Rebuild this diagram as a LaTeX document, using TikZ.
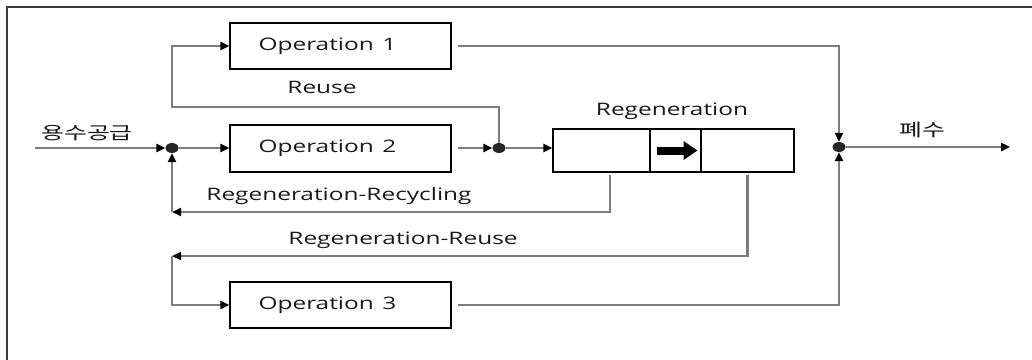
\documentclass[tikz,border=0pt]{standalone}
\usepackage{fontspec}
\setmainfont{Open Sans}[FakeStretch=1.42]
\newfontfamily\kr{Noto Sans CJK KR}[FakeStretch=1.42]
\usetikzlibrary{arrows.meta,shapes.geometric,calc}

\definecolor{flowgray}{RGB}{125,125,125}
\definecolor{framegray}{RGB}{60,60,60}

\newcommand\opname[1]{\hspace*{-26pt}Operation\enspace #1}

\begin{document}
\begin{tikzpicture}[x=1pt,y=-1pt,
  every node/.style={font=\fontsize{17.2}{20}\selectfont, text=black!90},
  opbox/.style={draw=black, line width=1.3pt, minimum width=221pt, minimum height=46pt, inner sep=0pt},
  regbox/.style={draw=black, line width=1.3pt, minimum height=43pt, inner sep=0pt},
  junc/.style={ellipse, fill=black!85, minimum width=13pt, minimum height=10pt, inner sep=0pt},
  flow/.style={draw=flowgray, line width=2.4pt, -{Triangle[length=9pt,width=8pt,color=black]}},
  lbl/.style={anchor=base, inner sep=0pt},
  krlbl/.style={inner sep=0pt, font=\kr\fontsize{17.5}{20}\selectfont},
]
\clip (0,0) rectangle (1032,359);
\fill[white] (0,0) rectangle (1032,359);

% outer frame (open to the right and bottom)
\draw[framegray, line width=2pt] (7,7) rectangle (1060,390);

% operation boxes
\node[opbox] (op1) at (340.5,46) {\opname{1}};
\node[opbox, minimum height=47pt] (op2) at (340.5,148.5) {\opname{2}};
\node[opbox] (op3) at (340.5,305) {\opname{3}};

% regeneration unit in three cells
\node[regbox, minimum width=97pt] (r1) at (601.5,150.5) {};
\node[regbox, minimum width=51pt] (r2) at (675.5,150.5) {};
\node[regbox, minimum width=93pt] (r3) at (747.5,150.5) {};
\draw[black, line width=8pt, -{Triangle[length=14pt,width=18pt]}]
  ([xshift=-19pt]r2.center) -- ([xshift=22pt]r2.center);

% junction points
\node[junc] (j1) at (172,148) {};
\node[junc] (j2) at (499,148) {};
\node[junc] (j3) at (839,147) {};

% route corners and free ends
\coordinate (src) at (35,148);
\coordinate (sink) at (1010,147);
\coordinate (ru) at (172,107);
\coordinate (rc) at (172,212);
\coordinate (rr) at (172,256);
\coordinate (r1o) at ([xshift=8.5pt,yshift=-2pt]r1.south);
\coordinate (r3o) at ([yshift=-2pt]r3.south);

% main flow
\draw[flow] (src) -- (j1);
\draw[flow] (j1) -- (j1 -| op2.west);
\draw[flow, shorten <=6pt] (j2 -| op2.east) -- (j2);
\draw[flow] (j2) -- (j2 -| r1.west);
\draw[flow] (j3) -- (sink);

% reuse loop
\draw[flow] (j2) |- (ru) |- (op1.west);

% discharge of operations 1 and 3
\draw[flow, shorten <=6pt] (op1.east) -| (j3);
\draw[flow, shorten <=6pt] (op3.east) -| (j3);

% regeneration-recycling
\draw[flow] (r1o) |- (rc);
\draw[flow] (rc) -- (j1);

% regeneration-reuse
\draw[flow] (r3o) |- (rr);
\draw[flow] (rr) |- (op3.west);

% labels
\node[krlbl] (kin) at (87,133.5) {용수공급};
\node[krlbl] (kout) at (922,129.5) {폐수};
\node[lbl] (lreuse) at (322,93) {Reuse};
\node[lbl] (lregen) at (672,115) {Regeneration};
\node[lbl] (lrc) at (339,200) {Regeneration-Recycling};
\node[lbl] (lrr) at (403,244) {Regeneration-Reuse};
\end{tikzpicture}
\end{document}
